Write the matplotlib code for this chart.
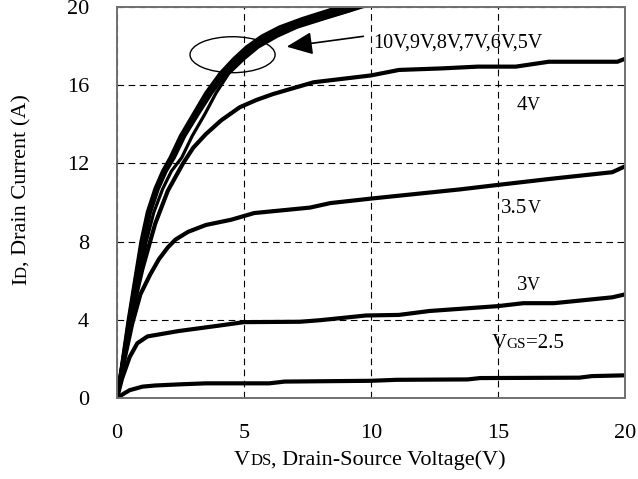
import matplotlib
matplotlib.use("Agg")
import matplotlib.pyplot as plt
from matplotlib.patches import Ellipse
from matplotlib.transforms import offset_copy

plt.rcParams['font.family'] = ['Liberation Serif', 'DejaVu Serif']

# output curves, VDS (V) vs ID (A)
x25 = [0, 0.3, 0.5, 1, 1.5, 2.5, 3.5, 6, 6.6, 10, 11, 13.8, 14.3, 18.2, 18.7, 20]
y25 = [0, 0.25, 0.4, 0.58, 0.64, 0.7, 0.75, 0.75, 0.84, 0.88, 0.93, 0.95, 1.02, 1.04, 1.12, 1.16]

x3 = [0, 0.2, 0.5, 0.8, 1.2, 2.4, 4, 5, 7.2, 8, 9.8, 11.1, 12.3, 15, 16, 17.2, 19.5, 20]
y3 = [0, 1.0, 2.1, 2.8, 3.15, 3.42, 3.7, 3.88, 3.9, 3.98, 4.22, 4.25, 4.45, 4.7, 4.85, 4.85, 5.15, 5.3]

x35 = [0, 0.3, 0.6, 0.92, 1.3, 1.65, 2.0, 2.3, 2.8, 3.5, 4.5, 5.4, 7.6, 8.4, 10, 13.5, 15, 17, 19.5, 20]
y35 = [0, 2.0, 3.8, 5.3, 6.3, 7.1, 7.7, 8.1, 8.5, 8.85, 9.12, 9.46, 9.74, 9.97, 10.2, 10.67, 10.9, 11.2,
       11.55, 11.85]

x4 = [0, 0.3, 0.6, 1.0, 1.5, 2.0, 2.6, 3.0, 3.5, 4.1, 4.83, 5.5, 6.15, 7.74, 10, 11.1, 12.8, 14.2, 15.7,
      17, 19.7, 20]
y4 = [0, 2.3, 4.4, 6.6, 8.9, 10.6, 12.0, 12.8, 13.5, 14.2, 14.87, 15.25, 15.55, 16.15, 16.5, 16.78, 16.86,
      16.95, 16.95, 17.2, 17.2, 17.35]

# 5V..10V curves bunch together
y_hi = [0, 2.2, 4, 6, 8, 9.5, 10.7, 11.6, 12.3, 13.4, 14.5, 15.6, 16.6, 17.35, 17.95, 18.5, 18.97, 19.4,
        19.8, 20.1]
x10 = [0, 0.25, 0.45, 0.7, 0.95, 1.2, 1.5, 1.8, 2.1, 2.5, 3.0, 3.5, 4.06, 4.6, 5.1, 5.7, 6.4, 7.3, 8.27, 9.0]
x9 = [0, 0.26, 0.47, 0.72, 0.98, 1.23, 1.53, 1.83, 2.14, 2.54, 3.05, 3.56, 4.12, 4.68, 5.2, 5.82, 6.55,
      7.5, 8.5, 9.2]
x8 = [0, 0.27, 0.49, 0.74, 1.0, 1.26, 1.56, 1.87, 2.18, 2.58, 3.1, 3.62, 4.18, 4.76, 5.3, 5.95, 6.7, 7.7,
      8.75, 9.45]
x7 = [0, 0.28, 0.5, 0.76, 1.02, 1.28, 1.59, 1.9, 2.21, 2.62, 3.14, 3.67, 4.24, 4.83, 5.38, 6.05, 6.85,
      7.9, 8.95, 9.6]
x6 = [0, 0.29, 0.52, 0.78, 1.05, 1.31, 1.62, 1.93, 2.25, 2.66, 3.18, 3.72, 4.3, 4.9, 5.46, 6.15, 6.98,
      8.05, 9.1, 9.75]
x5 = [0, 0.31, 0.57, 0.86, 1.15, 1.45, 1.8, 2.14, 2.55, 2.96, 3.45, 3.9, 4.4, 5.0, 5.56, 6.3, 7.1, 8.15,
      9.15, 9.9]

xticks = [0, 5, 10, 15, 20]
yticks = [0, 4, 8, 12, 16, 20]

fig = plt.figure(figsize=(6.38, 4.79), dpi=100)
ax = fig.add_axes([117 / 638, 1 - 398 / 479, 508 / 638, 391 / 479])

for xs, ys in [(x25, y25), (x3, y3), (x35, y35), (x4, y4)]:
    ax.plot(xs, ys, color='black', lw=3.0, solid_joinstyle='round', solid_capstyle='round')
ax.plot(x5, y_hi, color='black', lw=2.3, solid_joinstyle='round')
for xs in [x6, x7, x8, x9, x10]:
    ax.plot(xs, y_hi, color='black', lw=2.6, solid_joinstyle='round')

ax.set_xlim(0, 20)
ax.set_ylim(0, 20)
ax.set_xticks(xticks)
ax.set_yticks(yticks)
ax.tick_params(axis='x', length=0, pad=19, labelsize=16)
ax.tick_params(axis='y', length=0, pad=20, labelsize=16)
ax.grid(True, color='black', lw=0.8, linestyle=(0, (6, 4)))
ax.set_axisbelow(True)
for s in ax.spines.values():
    s.set_color('#707070')
    s.set_linewidth(1.4)


def rich_text(x, y, parts, transform, rotation=0, center=True):
    # pieces with different sizes on one baseline
    r = fig.canvas.get_renderer()
    widths = []
    for s, fs in parts:
        t = fig.text(0, 0, s, fontsize=fs)
        widths.append(t.get_window_extent(r).width)
        t.remove()
    off = -sum(widths) / 2 if center else 0
    for (s, fs), w in zip(parts, widths):
        dx, dy = (0, off) if rotation == 90 else (off, 0)
        tr = offset_copy(transform, fig=fig, x=dx, y=dy, units='dots')
        ax.text(x, y, s, fontsize=fs, rotation=rotation, rotation_mode='anchor',
                ha='left', va='baseline', transform=tr, clip_on=False)
        off += w


big, small = 16, 12
rich_text(0.58, 1 - 465 / 479, [('V', big), ('DS', small), (', Drain-Source Voltage(V)', big)],
          fig.transFigure)
rich_text(26.7 / 638, 1 - 189.5 / 479, [('I', big), ('D', small), (', Drain Current (A)', big)],
          fig.transFigure, rotation=90)

rich_text(16.2, 14.73, [('4', 15), ('V', 13)], ax.transData)
rich_text(15.9, 9.46, [('3.5', 15), ('V', 13)], ax.transData)
rich_text(16.2, 5.52, [('3', 15), ('V', 13)], ax.transData)
rich_text(16.18, 2.56, [('V', 15), ('GS', 11), ('=2.5', 15)], ax.transData)

ax.text(10.08, 17.94, '10V,9V,8V,7V,6V,5V', fontsize=14.5, ha='left', va='baseline')
ax.add_patch(Ellipse((4.55, 17.56), 3.35, 1.84, fill=False, lw=1.0, color='black'))
ax.annotate('', xy=(6.68, 17.97), xytext=(9.7, 18.5),
            arrowprops=dict(arrowstyle='-|>,head_length=0.8,head_width=0.35',
                            mutation_scale=20, lw=1.2, color='black',
                            shrinkA=0, shrinkB=0))

fig.savefig('out.png', dpi=100)
